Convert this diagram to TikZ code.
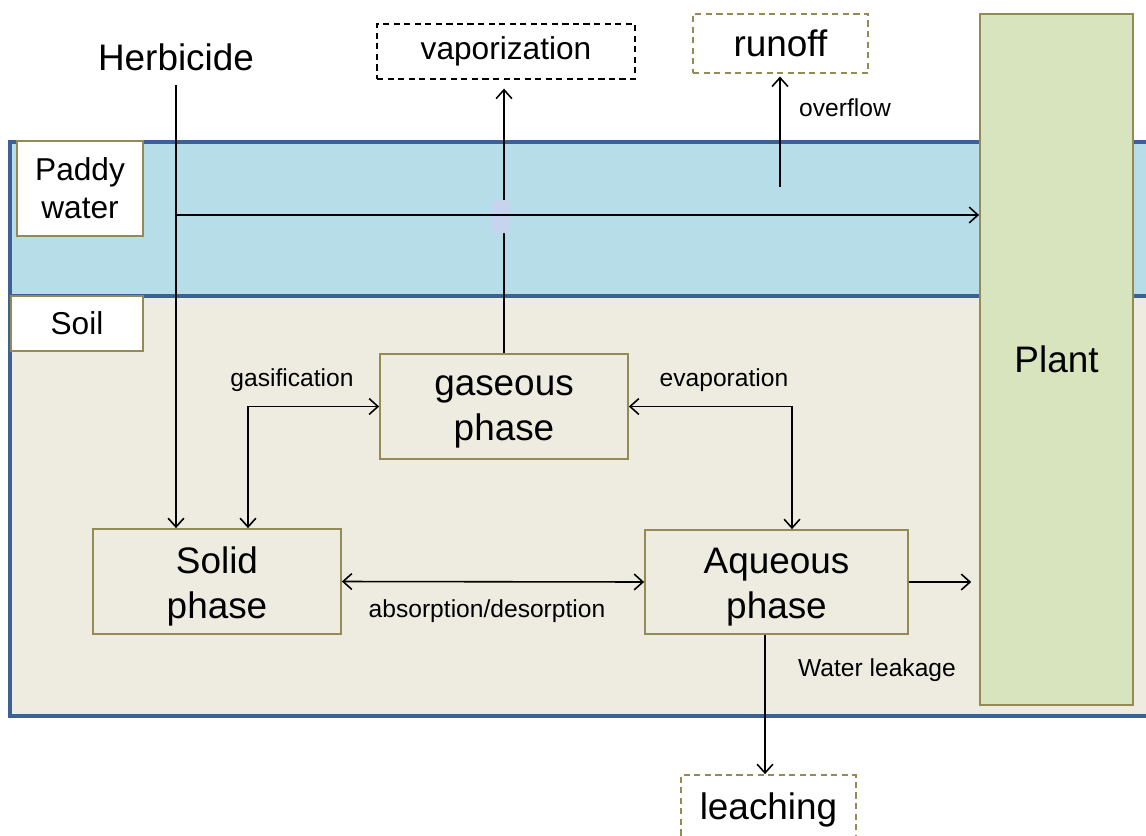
\documentclass[tikz,border=0pt]{standalone}
\usepackage{fontspec}
\setmainfont{Liberation Sans}
\usetikzlibrary{arrows.meta}
\newcommand{\pxu}{0.02cm}
\definecolor{waterc}{HTML}{B7DDE8}
\definecolor{soilc}{HTML}{EEECE1}
\definecolor{bandc}{HTML}{3D6195}
\definecolor{olivec}{HTML}{948A54}
\definecolor{plantc}{HTML}{D7E4BD}
\definecolor{lavc}{HTML}{C6D4EE}
\tikzset{
  bigfont/.style={font=\fontsize{21}{25.5}\selectfont},
  medfont/.style={font=\fontsize{18}{21.5}\selectfont},
  smallfont/.style={font=\fontsize{14}{17}\selectfont},
  phasebox/.style={draw=olivec, line width=1pt, rectangle, inner sep=0pt},
  phasetext/.style={bigfont, align=center, inner sep=0pt, yshift=-3pt},
  labelbox/.style={draw=olivec, line width=1pt, fill=white, rectangle, inner sep=0pt, align=center, medfont},
  outbox/.style={draw=olivec, line width=1pt, dash pattern=on 3.5pt off 2.5pt, fill=white, rectangle, inner sep=0pt, align=center, bigfont},
  flow/.style={line width=0.9pt, draw=black},
  tip/.style={-{Straight Barb[length=5pt,width=9pt]}},
  tips/.style={{Straight Barb[length=5pt,width=9pt]}-{Straight Barb[length=5pt,width=9pt]}},
  lbl/.style={inner sep=0pt, smallfont},
}
\begin{document}
\begin{tikzpicture}[x=\pxu, y=-\pxu]
\useasboundingbox (0,0) rectangle (1146,835);
% bands
\fill[waterc] (10,142) rectangle (1150,296);
\fill[soilc] (10,296) rectangle (1150,716);
\draw[bandc, line width=2pt] (1150,142) -- (10,142) -- (10,716) -- (1150,716);
\draw[bandc, line width=2pt] (10,296) -- (1150,296);
% label boxes
\node[labelbox, minimum width=126*\pxu, minimum height=95*\pxu] (paddy) at (80,188.5) {Paddy\\water};
\node[labelbox, minimum width=132*\pxu, minimum height=55*\pxu] (soil) at (77,323.5) {Soil};
% plant
\node[draw=olivec, line width=1pt, fill=plantc, inner sep=0pt, minimum width=153*\pxu, minimum height=691*\pxu, bigfont] (plant) at (1056.5,359.5) {Plant};
% phases
\node[phasebox, minimum width=248*\pxu, minimum height=105*\pxu,
  label={[phasetext]center:gaseous\\phase}] (gas) at (504,406.5) {};
\node[phasebox, minimum width=248*\pxu, minimum height=105*\pxu,
  label={[phasetext]center:Solid\\phase}] (solid) at (217,581.5) {};
\node[phasebox, minimum width=263*\pxu, minimum height=104*\pxu,
  label={[phasetext]center:Aqueous\\phase}] (aq) at (776.5,582) {};
% outputs
\node[outbox, draw=black, minimum width=258*\pxu, minimum height=55*\pxu, medfont] (vap) at (506,51.5) {vaporization};
\node[outbox, minimum width=175*\pxu, minimum height=59*\pxu] (runoff) at (780.5,43.5) {\raisebox{-1pt}{runoff}};
\node[outbox, minimum width=175*\pxu, minimum height=70*\pxu] (leach) at (768.5,810) {\raisebox{4pt}{leaching}};
% herbicide
\node[inner sep=0pt, bigfont] (herb) at (176,57) {Herbicide};
% connectors
\coordinate (hs) at (176,85);
\draw[flow, tip] (hs) -- (hs |- solid.north);
\draw[flow, tip, shorten >=5pt] (gas.north) -- (gas.north |- vap.south);
\fill[lavc, rounded corners=2pt] (492,200) rectangle (510,233);
\coordinate (pw) at (176,215);
\draw[flow, tip] (pw) -- (pw -| plant.west);
\coordinate (of) at (780,187);
\draw[flow, tip, shorten >=1.5pt] (of) -- (of |- runoff.south);
\coordinate (gc) at (248,0);
\draw[flow, tips] (gas.west) -| (gc |- solid.north);
\coordinate (ec) at (792,0);
\draw[flow, tips] (gas.east) -| (ec |- aq.north);
\draw[flow, tips] (solid.east) -- (aq.west);
\draw[flow, tip, shorten >=4.5pt] (aq.east) -- (aq.east -| plant.west);
\coordinate (lc) at (765,0);
\draw[flow, tip] (lc |- aq.south) -- (lc |- leach.north);
% labels
\node[lbl] (lof) at (845,108) {overflow};
\node[lbl] (lgas) at (292,380) {gasification};
\node[lbl] (levap) at (724,380) {evaporation};
\node[lbl] (labs) at (487,611) {absorption/desorption};
\node[lbl] (lwl) at (877,670) {Water leakage};
\end{tikzpicture}
\end{document}
